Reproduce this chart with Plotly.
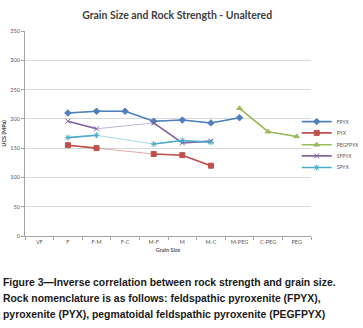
import plotly.graph_objects as go

categories = ["VF", "F", "F-M", "F-C", "M-F", "M", "M-C", "M-PEG", "C-PEG", "PEG"]
fpyx = [None, 210, 213, 213, 196, 198, 193, 202, None, None]
pyx = [None, 155, 150, None, 140, 138, 120, None, None, None]
pegfpyx = [None, None, None, None, None, None, None, 218, 178, 170]
sfpyx = [None, 196, 183, None, 193, 159, 162, None, None, None]
spyx = [None, 168, 172, None, 157, 163, 160, None, None, None]

series = [
    ("FPYX", fpyx, "#4F81BD", "diamond", 5),
    ("PYX", pyx, "#C0504D", "square", 5),
    ("PEGFPYX", pegfpyx, "#9BBB59", "triangle-up", 5),
    ("SFPYX", sfpyx, "#8064A2", "x-thin-open", 5),
    ("SPYX", spyx, "#4BACC6", "asterisk-open", 5),
]
legend_y = [0.558, 0.503, 0.445, 0.391, 0.334]

fig = go.Figure()
# thin connectors across missing categories
for name, vals, color, sym, ms in series:
    fig.add_trace(go.Scatter(
        x=categories, y=vals, mode="lines", connectgaps=True,
        line=dict(color=color, width=0.8), opacity=0.6,
        showlegend=False, hoverinfo="skip"))
legend_layout = {}
for i, (name, vals, color, sym, ms) in enumerate(series):
    lg = "legend" if i == 0 else "legend%d" % (i + 1)
    fig.add_trace(go.Scatter(
        x=categories, y=vals, name=name, mode="lines+markers", connectgaps=False,
        legend=lg,
        line=dict(color=color, width=1.6),
        marker=dict(symbol=sym, size=ms, color=color, line=dict(color=color, width=1))))
    legend_layout[lg] = dict(x=0.95, y=legend_y[i], xanchor="left", yanchor="middle",
                             font=dict(family="Lato", size=5, color="#595959"),
                             itemwidth=30, bgcolor="rgba(0,0,0,0)", borderwidth=0)

tick_font = dict(family="Lato", size=5.5, color="#595959")
fig.update_layout(
    width=363, height=328,
    margin=dict(l=25, r=52, t=31, b=92, autoexpand=False),
    paper_bgcolor="white", plot_bgcolor="white",
    title=dict(text="<b>Grain Size and Rock Strength - Unaltered</b>",
               font=dict(family="Lato", size=10.5, color="#404040"),
               x=0.488, xanchor="center", y=0.952, yanchor="middle"),
    xaxis=dict(type="category", categoryorder="array", categoryarray=categories,
               range=[-0.5, 9.5], showgrid=False, showline=True, linecolor="#A6A6A6",
               ticks="outside", tickson="boundaries", ticklen=3, tickcolor="#A6A6A6",
               tickfont=tick_font, tickangle=0, automargin=False,
               title=dict(text="<b>Grain Size</b>", font=dict(family="Lato", size=5.5, color="#595959"),
                          standoff=4)),
    yaxis=dict(range=[0, 350], dtick=50, showgrid=True, gridcolor="#D9D9D9", gridwidth=1,
               showline=True, linecolor="#A6A6A6", ticks="outside", ticklen=3,
               tickcolor="#A6A6A6", tickfont=tick_font, zeroline=False, automargin=False,
               title=dict(text="<b>UCS (MPa)</b>", font=dict(family="Lato", size=5.5, color="#404040"),
                          standoff=3)),
    **legend_layout,
)

caption = [
    "Figure 3\u2014Inverse correlation between rock strength and grain size.",
    "Rock nomenclature is as follows: feldspathic pyroxenite (FPYX),",
    "pyroxenite (PYX), pegmatoidal feldspathic pyroxenite (PEGFPYX)",
]
ys = [-0.229, -0.307, -0.385]
for txt, yy in zip(caption, ys):
    fig.add_annotation(text="<b>" + txt + "</b>", xref="paper", yref="paper",
                       x=-0.085, y=yy, xanchor="left", yanchor="middle", showarrow=False,
                       font=dict(family="Liberation Sans", size=10.4, color="#1a1a1a"))

fig.write_html("out.html", config={"displayModeBar": False},
               post_script="document.body.style.margin='0';document.body.style.overflow='hidden';")
